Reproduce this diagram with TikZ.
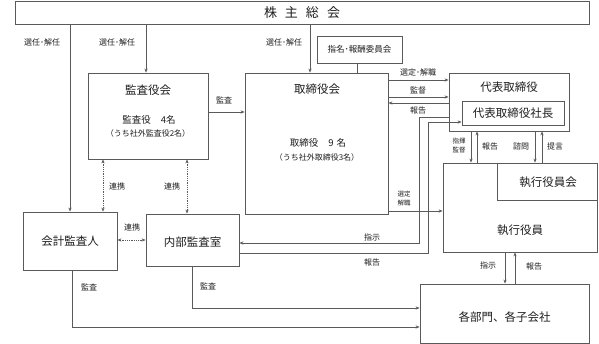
\documentclass[tikz,border=0pt]{standalone}
\usepackage{fontspec}
\setmainfont{Noto Sans CJK JP}
\usetikzlibrary{arrows.meta}
\definecolor{lc}{RGB}{90,90,90}
\definecolor{tc}{RGB}{30,30,30}
\begin{document}
\begin{tikzpicture}[x=1pt,y=-1pt,
 box/.style={draw=lc,line width=0.8pt,inner sep=0pt,fill=white},
 ln/.style={draw=lc,line width=0.8pt},
 arr/.style={ln,-{Stealth[length=4pt,width=3.2pt]}},
 rarr/.style={ln,{Stealth[length=4pt,width=3.2pt]}-},
 darr/.style={ln,densely dotted,{Stealth[length=4pt,width=3.2pt]}-{Stealth[length=4pt,width=3.2pt]}},
 ttl/.style={text=tc,inner sep=0pt,font=\fontsize{11.5}{12}\selectfont},
 mid/.style={text=tc,inner sep=0pt,font=\fontsize{9.5}{10}\selectfont},
 sub/.style={text=tc,inner sep=0pt,font=\fontsize{8}{9}\selectfont},
 lab/.style={text=tc,inner sep=0pt,font=\fontsize{8}{9}\selectfont},
 tiny/.style={text=tc,inner sep=0pt,font=\fontsize{6.5}{7}\selectfont},
]
\useasboundingbox (0,0) rectangle (599,344);
% boxes
\node[box,minimum width=574pt,minimum height=23pt] (top) at (302,12.5) {};
\node[text=tc,inner sep=0pt,font=\fontsize{13}{14}\selectfont] (topt) at (302,12.5) {株\hspace{8pt}主\hspace{8pt}総\hspace{8pt}会};
\node[box,minimum width=120pt,minimum height=86pt] (kansa) at (148,116) {};
\node[box,minimum width=143pt,minimum height=141pt] (tori) at (316.5,143.5) {};
\node[box,minimum width=85pt,minimum height=27pt] (shimei) at (359.5,49.5) {};
\node[box,minimum width=120pt,minimum height=58pt] (daihyo) at (509,102) {};
\node[box,minimum width=102pt,minimum height=24pt] (shacho) at (513,113) {};
\node[box,minimum width=154pt,minimum height=89pt] (shikko) at (520,207.5) {};
\node[box,minimum width=100pt,minimum height=37pt] (shikkokai) at (547,181.5) {};
\node[box,minimum width=94pt,minimum height=58pt] (kaikei) at (70,241) {};
\node[box,minimum width=93pt,minimum height=52pt] (naibu) at (192.5,240) {};
\node[box,minimum width=169pt,minimum height=59pt] (kakubu) at (504.5,313.5) {};
% box texts
\node[ttl] (kansat) at (148,90) {監査役会};
\node[mid] (kansa2) at (149,120) {監査役\hspace{10pt}4名};
\node[sub] (kansa3) at (148,133) {（うち社外監査役2名）};
\node[ttl] (torit) at (317,89) {取締役会};
\node[mid] (tori2) at (318,143) {取締役\hspace{10pt}9\hspace{3pt}名};
\node[sub] (tori3) at (317,157) {（うち社外取締役3名）};
\node[text=tc,inner sep=0pt,font=\fontsize{8.5}{9}\selectfont] (shimeit) at (359.5,49.5) {指名･報酬委員会};
\node[ttl] (daihyot) at (509,87) {代表取締役};
\node[ttl] (shachot) at (513,113) {代表取締役社長};
\node[ttl] (shikkot) at (520,230) {執行役員};
\node[ttl] (shikkokait) at (548,182) {執行役員会};
\node[ttl] (kaikeit) at (70,241) {会計監査人};
\node[ttl] (naibut) at (192.5,242) {内部監査室};
\node[ttl] (kakubut) at (504.5,317) {各部門、各子会社};
% connectors from top
\draw[arr] (top.south -| kaikei.north) -- (kaikei.north);
\draw[arr] (top.south -| 146,0) -- (146,0 |- kansa.north);
\draw[arr] (top.south -| 310,0) -- (310,0 |- tori.north);
\draw[ln] (shimei.south -| 357,0) -- (357,0 |- tori.north);
\node[lab] (l1) at (42,42) {選任･解任};
\node[lab] (l2) at (117,42) {選任･解任};
\node[lab] (l3) at (284,42) {選任･解任};
% kansa -> tori
\draw[arr] (kansa.east |- 0,112) -- (tori.west |- 0,112);
\node[lab] (l4) at (224,100) {監査};
% tori <-> daihyo
\draw[arr] (tori.east |- 0,80) -- (daihyo.west |- 0,80);
\draw[arr] (tori.east |- 0,97) -- (daihyo.west |- 0,97);
\draw[rarr] (tori.east |- 0,103) -- (daihyo.west |- 0,103);
\node[lab] (l5) at (418,72) {選定･解職};
\node[lab] (l6) at (418,90) {監督};
\node[lab] (l7) at (418,110) {報告};
% daihyo <-> shikko
\draw[arr] (daihyo.south -| 471,0) -- (471,0 |- shikko.north);
\draw[rarr] (daihyo.south -| 477,0) -- (477,0 |- shikko.north);
\draw[arr] (daihyo.south -| 535,0) -- (535,0 |- shikkokai.north);
\draw[rarr] (daihyo.south -| 542,0) -- (542,0 |- shikkokai.north);
\node[tiny] (l8a) at (459,141) {指揮};
\node[tiny] (l8b) at (459,150) {監督};
\node[lab] (l9) at (490,146) {報告};
\node[lab] (l10) at (521,146) {諮問};
\node[lab] (l11) at (555,146) {提言};
% tori -> shikko
\draw[arr] (tori.east |- 0,211) -- (shikko.west |- 0,211);
\node[tiny] (l12a) at (404,194) {選定};
\node[tiny] (l12b) at (404,203) {解職};
% daihyo -> naibu (指示), naibu -> shacho (報告)
\coordinate (s1) at (419,117);
\coordinate (s2) at (419,243);
\draw[arr] (daihyo.west |- s1) -- (s1) -- (s2) -- (naibu.east |- s2);
\coordinate (h1) at (428,253);
\coordinate (h2) at (428,122);
\draw[arr] (naibu.east |- h1) -- (h1) -- (h2) -- (shacho.west |- h2);
\node[lab] (l13) at (372,237) {指示};
\node[lab] (l14) at (372,262) {報告};
% renkei
\draw[darr] (kansa.south -| 103,0) -- (103,0 |- kaikei.north);
\draw[darr] (kansa.south -| 187,0) -- (187,0 |- naibu.north);
\draw[darr] (kaikei.east |- 0,240) -- (naibu.west |- 0,240);
\node[lab] (l15) at (117,186) {連携};
\node[lab] (l16) at (172,186) {連携};
\node[lab] (l17) at (132,227) {連携};
% audit lines
\coordinate (a1) at (72,327);
\draw[arr] (kaikei.south -| a1) -- (a1) -- (kakubu.west |- a1);
\coordinate (a2) at (192,308);
\draw[arr] (naibu.south -| a2) -- (a2) -- (kakubu.west |- a2);
\node[lab] (l18) at (89,287) {監査};
\node[lab] (l19) at (208,286) {監査};
% shikko <-> kakubu
\draw[arr] (shikko.south -| 505,0) -- (505,0 |- kakubu.north);
\draw[rarr] (shikko.south -| 515,0) -- (515,0 |- kakubu.north);
\node[lab] (l20) at (488,265) {指示};
\node[lab] (l21) at (534,266) {報告};
\end{tikzpicture}
\end{document}
